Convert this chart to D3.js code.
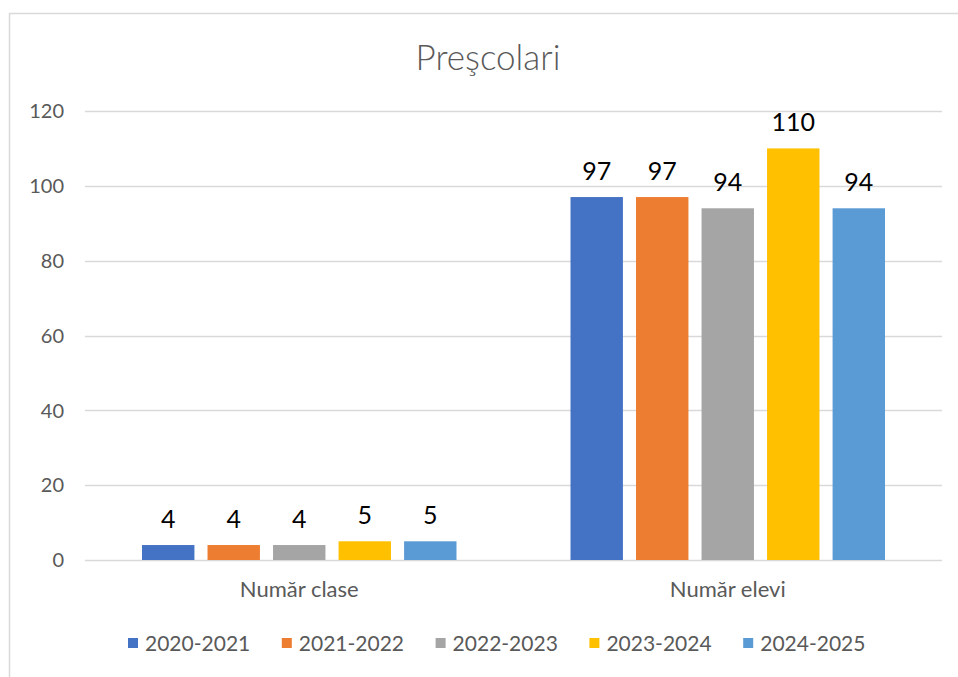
<!DOCTYPE html>
<html>
<head>
<meta charset="utf-8">
<script src="https://cdn.jsdelivr.net/npm/d3@7/dist/d3.min.js"></script>
<style>
  body { margin: 0; background: #fff; }
  svg { display: block; }
  text { font-family: Lato, "Open Sans", sans-serif; }
</style>
</head>
<body>
<svg id="chart" width="958" height="677"></svg>
<script>
const categories = ["Număr clase", "Număr elevi"];
const seriesNames = ["2020-2021", "2021-2022", "2022-2023", "2023-2024", "2024-2025"];
const values2020 = [4, 97];
const values2021 = [4, 97];
const values2022 = [4, 94];
const values2023 = [5, 110];
const values2024 = [5, 94];
const yTicks = [0, 20, 40, 60, 80, 100, 120];
const colors = ["#4472C4", "#ED7D31", "#A5A5A5", "#FFC000", "#5B9BD5"];
const title = "Preşcolari";

const seriesValues = [values2020, values2021, values2022, values2023, values2024];

const svg = d3.select("#chart");

// chart border
svg.append("rect")
  .attr("x", 9.5).attr("y", 13.5)
  .attr("width", 970).attr("height", 700)
  .attr("fill", "#fff").attr("stroke", "#d9d9d9").attr("stroke-width", 1.5);

const plot = { left: 85, right: 942, top: 111, bottom: 560 };

const y = d3.scaleLinear().domain([0, 120]).range([plot.bottom, plot.top]);
const x0 = d3.scaleBand().domain(categories).range([plot.left, plot.right]).padding(0);
const x1 = d3.scaleBand().domain(seriesNames).range([0, x0.bandwidth()])
  .paddingInner(0.2).paddingOuter(0.87);

// gridlines
svg.append("g").selectAll("line").data(yTicks).join("line")
  .attr("x1", plot.left).attr("x2", plot.right)
  .attr("y1", d => Math.round(y(d)) + 0.5).attr("y2", d => Math.round(y(d)) + 0.5)
  .attr("stroke", "#d9d9d9").attr("stroke-width", 1.3);

// y tick labels
svg.append("g").selectAll("text").data(yTicks).join("text")
  .attr("x", 64).attr("y", d => y(d))
  .attr("dy", "0.36em")
  .attr("text-anchor", "end")
  .attr("font-size", 20).attr("fill", "#595959")
  .text(d => d);

// bars
const groups = svg.append("g").selectAll("g").data(categories).join("g")
  .attr("transform", c => `translate(${x0(c)},0)`);

groups.each(function(c, ci) {
  const g = d3.select(this);
  const data = seriesNames.map((s, si) => ({ s, si, v: seriesValues[si][ci] }));
  g.selectAll("rect").data(data).join("rect")
    .attr("x", d => x1(d.s))
    .attr("width", x1.bandwidth())
    .attr("y", d => y(d.v))
    .attr("height", d => y(0) - y(d.v))
    .attr("fill", d => colors[d.si]);
  g.selectAll("text").data(data).join("text")
    .attr("x", d => x1(d.s) + x1.bandwidth() / 2)
    .attr("y", d => y(d.v) - 17)
    .attr("text-anchor", "middle")
    .attr("font-size", 25).attr("fill", "#000")
    .text(d => d.v);
});

// category labels
svg.append("g").selectAll("text").data(categories).join("text")
  .attr("x", c => x0(c) + x0.bandwidth() / 2)
  .attr("y", 597)
  .attr("text-anchor", "middle")
  .attr("font-size", 22).attr("fill", "#595959")
  .text(c => c);

// title
svg.append("text")
  .attr("x", 488).attr("y", 70)
  .attr("text-anchor", "middle")
  .attr("font-size", 35).attr("fill", "#595959")
  .attr("font-weight", 300)
  .text(title);

// legend
const legend = svg.append("g").selectAll("g").data(seriesNames).join("g")
  .attr("transform", (d, i) => `translate(${128 + i * 153.8},643)`);
legend.append("rect")
  .attr("x", 0).attr("y", -5).attr("width", 10).attr("height", 10)
  .attr("fill", (d, i) => colors[i]);
legend.append("text")
  .attr("x", 17).attr("y", 0).attr("dy", "0.36em")
  .attr("font-size", 21).attr("fill", "#595959")
  .text(d => d);
</script>
</body>
</html>
